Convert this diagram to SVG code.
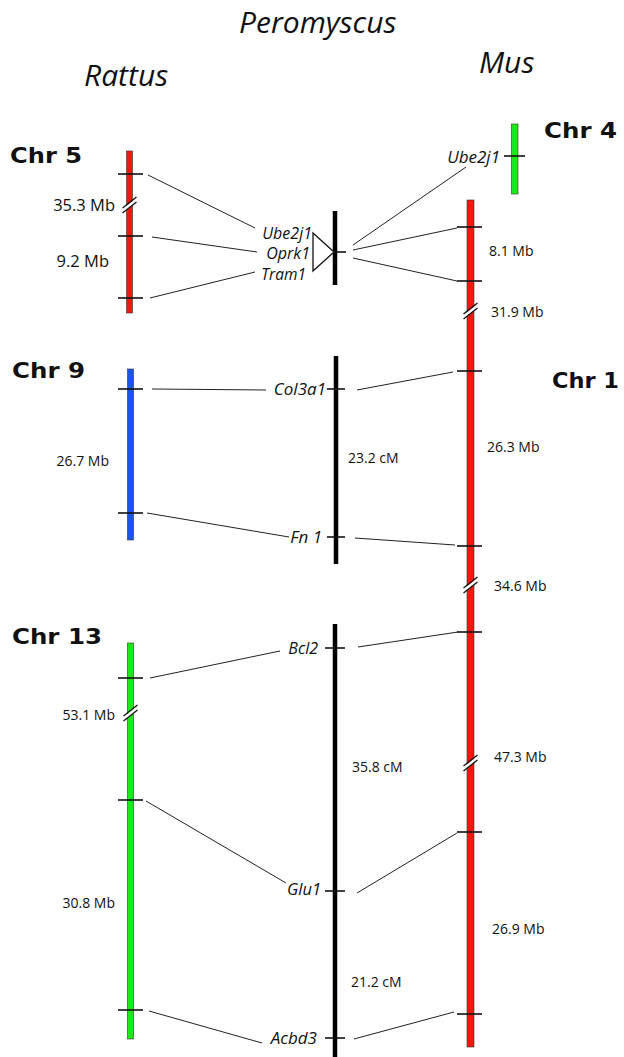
<svg xmlns="http://www.w3.org/2000/svg" width="624" height="1057" viewBox="0 0 624 1057">
<style>
.title{font-family:"Open Sans","Noto Sans",sans-serif;font-style:italic;fill:#111}
.chr{font-family:"DejaVu Sans",sans-serif;font-weight:bold;fill:#111}
.mb{font-family:"Open Sans","Noto Sans",sans-serif;fill:#111}
.gene{font-family:"Open Sans","Noto Sans",sans-serif;font-style:italic;fill:#111}
.tick{stroke:#111;stroke-width:1.6}
.conn{stroke:#222;stroke-width:1;fill:none}
.bar{stroke:#333;stroke-width:0.6}
.pbar{stroke:#000;stroke-width:4.5}
</style>
<defs>
<g id="brk">
<polygon points="-7,4 7,-7 7,-3 -7,8" fill="#fff"/>
<line x1="-7" y1="3" x2="7" y2="-8" stroke="#111" stroke-width="1.3"/>
<line x1="-7" y1="8" x2="7" y2="-3" stroke="#111" stroke-width="1.3"/>
</g>
</defs>
<rect width="624" height="1057" fill="#fff"/>
<g id="titles">
<text class="title" x="239" y="33" font-size="30">Peromyscus</text>
<text class="title" x="84" y="86" font-size="30">Rattus</text>
<text class="title" x="479" y="73" font-size="30">Mus</text>
</g>
<g id="rattus-chr5">
<text class="chr" x="10" y="163" font-size="22" textLength="72" lengthAdjust="spacingAndGlyphs">Chr 5</text>
<rect class="bar" x="126.5" y="151" width="6" height="162" fill="#f0190f"/>
<line class="tick" x1="118" y1="174" x2="143" y2="174"/>
<line class="tick" x1="118" y1="236" x2="143" y2="236"/>
<line class="tick" x1="118" y1="298" x2="143" y2="298"/>
<use href="#brk" x="129.5" y="205"/>
<text class="mb" x="115" y="211" text-anchor="end" font-size="16.5">35.3 Mb</text>
<text class="mb" x="109" y="267" text-anchor="end" font-size="16.5">9.2 Mb</text>
</g>
<g id="rattus-chr9">
<text class="chr" x="12" y="378" font-size="22" textLength="73" lengthAdjust="spacingAndGlyphs">Chr 9</text>
<rect class="bar" x="127.5" y="369" width="6" height="171" fill="#1a55e8"/>
<line class="tick" x1="118" y1="389" x2="143" y2="389"/>
<line class="tick" x1="118" y1="513" x2="143" y2="513"/>
<text class="mb" x="109" y="466" text-anchor="end" font-size="14">26.7 Mb</text>
</g>
<g id="rattus-chr13">
<text class="chr" x="12" y="644" font-size="22" textLength="90" lengthAdjust="spacingAndGlyphs">Chr 13</text>
<rect class="bar" x="127.5" y="643" width="6" height="396" fill="#1ee81a"/>
<line class="tick" x1="118" y1="678" x2="143" y2="678"/>
<line class="tick" x1="118" y1="800" x2="143" y2="800"/>
<line class="tick" x1="118" y1="1010" x2="143" y2="1010"/>
<use href="#brk" x="130.5" y="713"/>
<text class="mb" x="115" y="720" text-anchor="end" font-size="14">53.1 Mb</text>
<text class="mb" x="115" y="908" text-anchor="end" font-size="14">30.8 Mb</text>
</g>
<g id="pero-top">
<line class="pbar" x1="335" y1="211" x2="335" y2="285"/>
<line class="tick" x1="330" y1="252" x2="346" y2="252"/>
<polygon points="313,233 313,271 334,252" fill="#fff" stroke="#111" stroke-width="1.3"/>
<text class="gene" x="312" y="239" text-anchor="end" font-size="16">Ube2j1</text>
<text class="gene" x="310" y="259" text-anchor="end" font-size="16">Oprk1</text>
<text class="gene" x="306" y="280" text-anchor="end" font-size="15.5">Tram1</text>
</g>
<g id="pero-mid">
<line class="pbar" x1="336" y1="356" x2="336" y2="564"/>
<line class="tick" x1="327" y1="389" x2="345" y2="389"/>
<line class="tick" x1="327" y1="537" x2="345" y2="537"/>
<text class="gene" x="326" y="395" text-anchor="end" font-size="17">Col3a1</text>
<text class="gene" x="322" y="543" text-anchor="end" font-size="17">Fn 1</text>
<text class="mb" x="348" y="463" font-size="14">23.2 cM</text>
</g>
<g id="pero-bot">
<line class="pbar" x1="335" y1="624" x2="335" y2="1057"/>
<line class="tick" x1="325" y1="648" x2="345" y2="648"/>
<line class="tick" x1="325" y1="891" x2="345" y2="891"/>
<line class="tick" x1="325" y1="1038" x2="345" y2="1038"/>
<text class="gene" x="318" y="654" text-anchor="end" font-size="16">Bcl2</text>
<text class="gene" x="321" y="895" text-anchor="end" font-size="16.5">Glu1</text>
<text class="gene" x="317" y="1044" text-anchor="end" font-size="17">Acbd3</text>
<text class="mb" x="352" y="772" font-size="14">35.8 cM</text>
<text class="mb" x="351" y="987" font-size="14">21.2 cM</text>
</g>
<g id="mus-chr4">
<text class="chr" x="544" y="138" font-size="22" textLength="73" lengthAdjust="spacingAndGlyphs">Chr 4</text>
<rect class="bar" x="511.5" y="124" width="6.5" height="70" fill="#1ee81a"/>
<line class="tick" x1="504" y1="156" x2="525" y2="156"/>
<text class="gene" x="500" y="163" text-anchor="end" font-size="17">Ube2j1</text>
</g>
<g id="mus-chr1">
<text class="chr" x="552" y="388" font-size="22" textLength="67" lengthAdjust="spacingAndGlyphs">Chr 1</text>
<rect class="bar" x="467" y="200" width="7" height="847" fill="#f0190f"/>
<line class="tick" x1="457" y1="227" x2="482" y2="227"/>
<line class="tick" x1="457" y1="281" x2="482" y2="281"/>
<line class="tick" x1="457" y1="371" x2="482" y2="371"/>
<line class="tick" x1="457" y1="546" x2="482" y2="546"/>
<line class="tick" x1="457" y1="632" x2="482" y2="632"/>
<line class="tick" x1="457" y1="832" x2="482" y2="832"/>
<line class="tick" x1="457" y1="1014" x2="482" y2="1014"/>
<use href="#brk" x="470.5" y="311"/>
<use href="#brk" x="470.5" y="585"/>
<use href="#brk" x="470.5" y="763"/>
<text class="mb" x="489" y="256" font-size="14">8.1 Mb</text>
<text class="mb" x="491" y="317" font-size="14">31.9 Mb</text>
<text class="mb" x="487" y="452" font-size="14">26.3 Mb</text>
<text class="mb" x="494" y="591" font-size="14">34.6 Mb</text>
<text class="mb" x="494" y="762" font-size="14">47.3 Mb</text>
<text class="mb" x="492" y="934" font-size="14">26.9 Mb</text>
</g>
<g id="connectors">
<line class="conn" x1="148" y1="175" x2="255" y2="228"/>
<line class="conn" x1="152" y1="237" x2="257" y2="252"/>
<line class="conn" x1="150" y1="298" x2="255" y2="272"/>
<line class="conn" x1="353" y1="245" x2="466" y2="167"/>
<line class="conn" x1="353" y1="250" x2="457" y2="228"/>
<line class="conn" x1="353" y1="258" x2="457" y2="281"/>
<line class="conn" x1="152" y1="389" x2="266" y2="390"/>
<line class="conn" x1="357" y1="390" x2="453" y2="372"/>
<line class="conn" x1="147" y1="513" x2="289" y2="537"/>
<line class="conn" x1="355" y1="538" x2="455" y2="545"/>
<line class="conn" x1="150" y1="678" x2="280" y2="651"/>
<line class="conn" x1="358" y1="647" x2="458" y2="632"/>
<line class="conn" x1="146" y1="801" x2="286" y2="883"/>
<line class="conn" x1="357" y1="893" x2="457" y2="833"/>
<line class="conn" x1="149" y1="1011" x2="262" y2="1043"/>
<line class="conn" x1="354" y1="1039" x2="454" y2="1012"/>
</g>
</svg>
